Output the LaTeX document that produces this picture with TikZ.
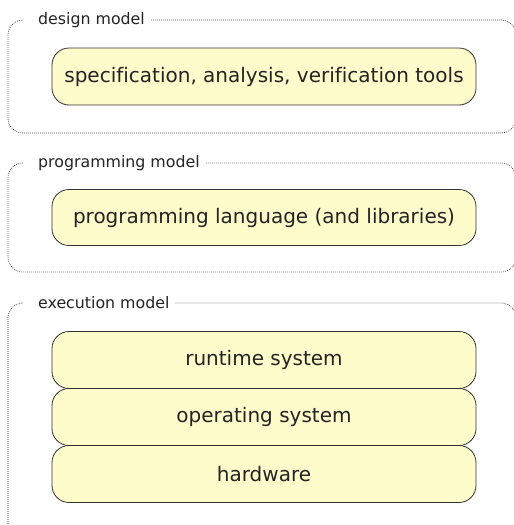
\documentclass[tikz,border=0pt]{standalone}
\usepackage{fontspec}
\setmainfont[Ligatures=NoCommon]{DejaVu Sans}
\begin{document}
\begin{tikzpicture}[x=1pt,y=-1pt,
  layer/.style={draw={rgb,255:red,50;green,50;blue,50}, line width=0.8pt,
    fill={rgb,255:red,255;green,252;blue,204}, rounded corners=17pt,
    minimum width=424pt, inner sep=0pt, font=\fontsize{20}{23}\selectfont,
    text={rgb,255:red,35;green,35;blue,35}},
  modellabel/.style={anchor=west, inner sep=0pt, font=\fontsize{15.8}{18}\selectfont,
    text={rgb,255:red,35;green,35;blue,35}},
  frame/.style={draw={rgb,255:red,70;green,70;blue,70}, line width=0.8pt,
    dash pattern=on 0.8pt off 1.2pt, rounded corners=15pt}]
\useasboundingbox (0,0) rectangle (514,525);
\begin{scope}
\clip (0,0) rectangle (514,525);
% design model
\node[modellabel] (ldesign) at (38,20) {design model};
\draw[frame] ([xshift=6pt]ldesign.east) -- (516,20) -- (516,133) -- (8,133) -- (8,20) -- (23,20);
\node[layer, minimum height=57pt] (tools) at (264,76.5) {specification, analysis, verification tools};
% programming model
\node[modellabel] (lprog) at (38,163) {programming model};
\draw[frame] ([xshift=6pt]lprog.east) -- (516,163) -- (516,272) -- (8,272) -- (8,163) -- (23,163);
\node[layer, minimum height=56pt] (lang) at (264,217.5) {programming language (and libraries)};
% execution model
\node[modellabel] (lexec) at (38,303) {execution model};
\draw[frame] ([xshift=6pt]lexec.east) -- (516,303) -- (516,538) -- (8,538) -- (8,303) -- (23,303);
\node[layer, minimum height=57pt] (rts) at (264,360) {runtime system};
\node[layer, minimum height=57pt] (os) at (264,417) {operating system};
\node[layer, minimum height=57pt] (hw) at (264,474) {hardware};
\end{scope}
\end{tikzpicture}
\end{document}
